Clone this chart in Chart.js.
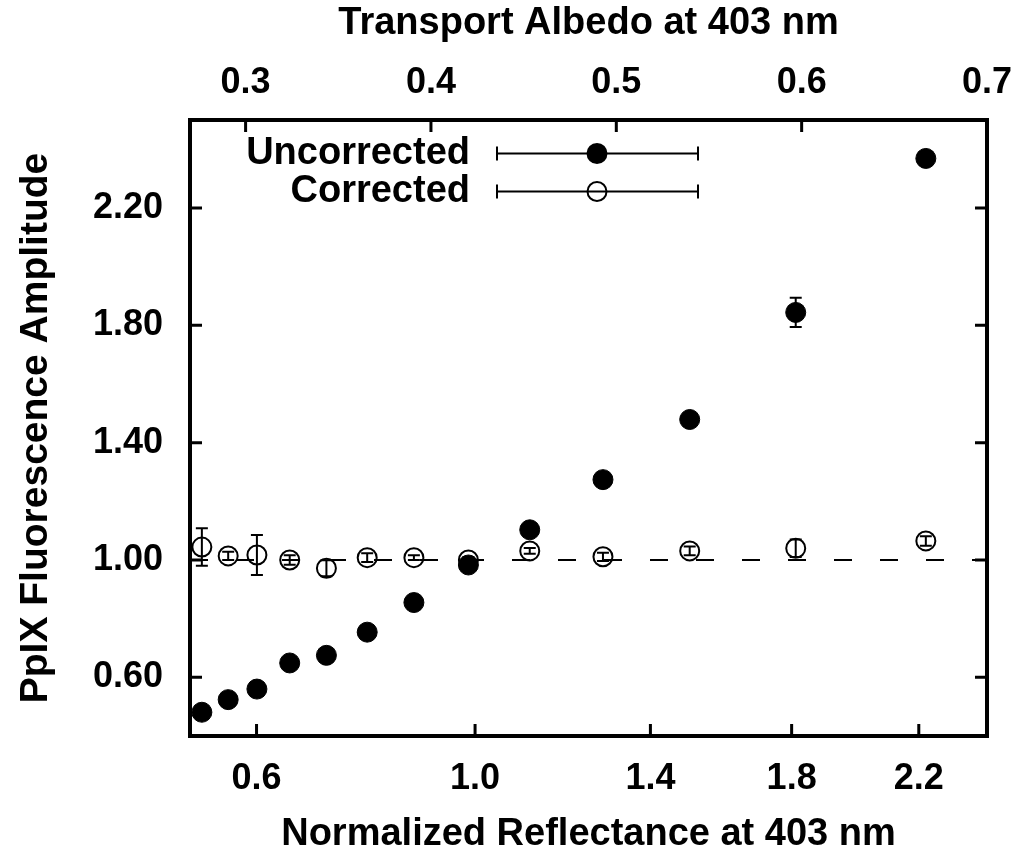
<!DOCTYPE html>
<html>
<head>
<meta charset="utf-8">
<title>PpIX Fluorescence Amplitude vs Transport Albedo</title>
<script src="https://cdn.jsdelivr.net/npm/chart.js@4.4.0/dist/chart.umd.min.js"></script>
<style>
  html, body { margin: 0; padding: 0; background: #ffffff; }
  #wrap { width: 1017px; height: 854px; position: relative; }
</style>
</head>
<body>
<div id="wrap"><canvas id="chart"></canvas></div>
<script>
// Phantom positions on the transport-albedo axis
const albedo = [0.2764, 0.2906, 0.3061, 0.3238, 0.3436, 0.3656, 0.3908, 0.4202, 0.4533, 0.4928, 0.5396, 0.5968, 0.6670];

// PpIX fluorescence amplitude, raw and corrected, with standard deviations
const uncorrected    = [0.481, 0.524, 0.560, 0.649, 0.675, 0.754, 0.855, 0.983, 1.103, 1.274, 1.479, 1.844, 2.369];
const uncorrectedErr = [0.010, 0.010, 0.010, 0.012, 0.010, 0.010, 0.012, 0.010, 0.015, 0.015, 0.020, 0.050, 0.020];
const corrected      = [1.044, 1.014, 1.017, 1.000, 0.972, 1.008, 1.008, 1.000, 1.031, 1.011, 1.031, 1.040, 1.065];
const correctedErr   = [0.064, 0.014, 0.068, 0.016, 0.027, 0.015, 0.008, 0.010, 0.010, 0.014, 0.015, 0.030, 0.016];

// Axis ticks
const albedoTicks = [0.3, 0.4, 0.5, 0.6, 0.7];
const reflectanceTickLabels = ['0.6', '1.0', '1.4', '1.8', '2.2'];
const reflectanceTickAlbedo = [0.3059, 0.4238, 0.5184, 0.5946, 0.6632];
const amplitudeTicks = [0.6, 1.0, 1.4, 1.8, 2.2];
const referenceLevel = 1.0;

const albedoRange = [0.27, 0.70];
const amplitudeRange = [0.40, 2.50];

const FONT = "'Liberation Sans', Arial, Helvetica, sans-serif";
const tickFont = { family: FONT, size: 36, weight: 'bold' };

const series = [
  { label: 'Uncorrected', values: uncorrected, errors: uncorrectedErr, filled: true },
  { label: 'Corrected',   values: corrected,   errors: correctedErr,   filled: false }
];

function drawMarker(ctx, x, y, filled) {
  ctx.beginPath();
  if (filled) {
    ctx.arc(x, y, 10.5, 0, Math.PI * 2);
    ctx.fillStyle = '#000';
    ctx.fill();
  } else {
    ctx.arc(x, y, 9.5, 0, Math.PI * 2);
    ctx.lineWidth = 2;
    ctx.strokeStyle = '#000';
    ctx.stroke();
  }
}

// Keep the plot box fixed: no extra room for overhanging tick labels
function fixBox(size, key) {
  return s => {
    s[key] = size;
    s.paddingLeft = 0; s.paddingRight = 0; s.paddingTop = 0; s.paddingBottom = 0;
  };
}

// Vertical error bars with caps, under the markers
const errorBars = {
  id: 'errorBars',
  beforeDatasetsDraw(chart) {
    const { ctx } = chart;
    const xs = chart.scales.albedo, ys = chart.scales.y;
    ctx.save();
    ctx.strokeStyle = '#000';
    ctx.lineWidth = 2;
    series.forEach(s => {
      s.values.forEach((v, i) => {
        const px = xs.getPixelForValue(albedo[i]);
        const top = ys.getPixelForValue(v + s.errors[i]);
        const bot = ys.getPixelForValue(v - s.errors[i]);
        ctx.beginPath();
        ctx.moveTo(px, top); ctx.lineTo(px, bot);
        ctx.moveTo(px - 6, top); ctx.lineTo(px + 6, top);
        ctx.moveTo(px - 6, bot); ctx.lineTo(px + 6, bot);
        ctx.stroke();
      });
    });
    ctx.restore();
  }
};

// Heavy frame with inward tick marks, and the key
const frameAndKey = {
  id: 'frameAndKey',
  afterDraw(chart) {
    const { ctx, chartArea: a } = chart;
    const xTop = chart.scales.albedo, xBot = chart.scales.refl, y = chart.scales.y;
    const tl = 12;
    ctx.save();
    ctx.strokeStyle = '#000';
    ctx.lineWidth = 3;
    ctx.beginPath();
    albedoTicks.forEach(v => { const p = xTop.getPixelForValue(v); ctx.moveTo(p, a.top); ctx.lineTo(p, a.top + tl); });
    reflectanceTickAlbedo.forEach(v => { const p = xBot.getPixelForValue(v); ctx.moveTo(p, a.bottom); ctx.lineTo(p, a.bottom - tl); });
    amplitudeTicks.forEach(v => {
      const p = y.getPixelForValue(v);
      ctx.moveTo(a.left, p); ctx.lineTo(a.left + tl, p);
      ctx.moveTo(a.right, p); ctx.lineTo(a.right - tl, p);
    });
    ctx.stroke();
    ctx.lineWidth = 4;
    ctx.strokeRect(a.left, a.top, a.right - a.left, a.bottom - a.top);

    // key
    const keyRows = [153.5, 191.5];
    const textRight = 470, lineL = 497, lineR = 698, mark = 597;
    ctx.font = `bold 38px ${FONT}`;
    ctx.textAlign = 'right';
    ctx.textBaseline = 'middle';
    ctx.fillStyle = '#000';
    series.forEach((s, i) => {
      const ky = keyRows[i];
      ctx.fillText(s.label, textRight, ky);
      ctx.lineWidth = 2;
      ctx.beginPath();
      ctx.moveTo(lineL, ky); ctx.lineTo(lineR, ky);
      ctx.moveTo(lineL, ky - 7); ctx.lineTo(lineL, ky + 7);
      ctx.moveTo(lineR, ky - 7); ctx.lineTo(lineR, ky + 7);
      ctx.stroke();
      drawMarker(ctx, mark, ky, s.filled);
    });
    ctx.restore();
  }
};

const toPoints = vals => albedo.map((x, i) => ({ x, y: vals[i] }));

new Chart(document.getElementById('chart'), {
  type: 'scatter',
  data: {
    datasets: [
      {
        label: 'Uncorrected',
        data: toPoints(uncorrected),
        xAxisID: 'albedo', yAxisID: 'y',
        pointRadius: 10, pointHoverRadius: 10,
        pointBorderWidth: 1,
        pointBackgroundColor: '#000', pointBorderColor: '#000',
        order: 0
      },
      {
        label: 'Corrected',
        data: toPoints(corrected),
        xAxisID: 'albedo', yAxisID: 'y',
        pointRadius: 9.5, pointHoverRadius: 9.5,
        pointBorderWidth: 2,
        pointBackgroundColor: 'rgba(0,0,0,0)', pointBorderColor: '#000',
        order: 1
      },
      {
        label: 'Reference',
        type: 'line',
        showLine: true,
        data: albedoRange.map(x => ({ x, y: referenceLevel })),
        xAxisID: 'albedo', yAxisID: 'y',
        borderColor: '#000', borderWidth: 2,
        borderDash: [18, 28],
        pointRadius: 0, pointHoverRadius: 0,
        order: 2
      }
    ]
  },
  options: {
    responsive: true,
    maintainAspectRatio: false,
    animation: false,
    events: [],
    layout: { padding: { left: 0, right: 30, top: 0, bottom: 0 } },
    plugins: { legend: { display: false }, tooltip: { enabled: false } },
    scales: {
      albedo: {
        type: 'linear', position: 'top', axis: 'x',
        min: albedoRange[0], max: albedoRange[1], bounds: 'data',
        afterBuildTicks: s => { s.ticks = albedoTicks.map(v => ({ value: v })); },
        afterFit: fixBox(120, 'height'),
        grid: { display: false, drawTicks: false },
        border: { display: false },
        ticks: { autoSkip: false, maxRotation: 0, padding: 15, color: '#000', font: tickFont,
                 callback: v => v.toFixed(1) },
        title: { display: true, text: 'Transport Albedo at 403 nm', color: '#000',
                 font: { family: FONT, size: 38, weight: 'bold', lineHeight: 1.0 },
                 padding: { top: 5, bottom: 0 } }
      },
      refl: {
        type: 'linear', position: 'bottom', axis: 'x',
        min: albedoRange[0], max: albedoRange[1], bounds: 'data',
        afterBuildTicks: s => { s.ticks = reflectanceTickAlbedo.map(v => ({ value: v })); },
        afterFit: fixBox(118, 'height'),
        grid: { display: false, drawTicks: false },
        border: { display: false },
        ticks: { autoSkip: false, maxRotation: 0, padding: 21, color: '#000', font: tickFont,
                 callback: (v, i) => reflectanceTickLabels[i] },
        title: { display: true, text: 'Normalized Reflectance at 403 nm', color: '#000',
                 font: { family: FONT, size: 38, weight: 'bold', lineHeight: 1.0 },
                 padding: { top: 0, bottom: 0 } }
      },
      y: {
        type: 'linear', position: 'left',
        min: amplitudeRange[0], max: amplitudeRange[1], bounds: 'data',
        afterBuildTicks: s => { s.ticks = amplitudeTicks.map(v => ({ value: v })); },
        afterFit: fixBox(190, 'width'),
        grid: { display: false, drawTicks: false },
        border: { display: false },
        ticks: { autoSkip: false, padding: 27, color: '#000', font: tickFont,
                 callback: v => v.toFixed(2) },
        title: { display: true, text: 'PpIX Fluorescence Amplitude', color: '#000',
                 font: { family: FONT, size: 39, weight: 'bold', lineHeight: 1.0 },
                 padding: { top: 17, bottom: 0 } }
      }
    }
  },
  plugins: [errorBars, frameAndKey]
});
</script>
</body>
</html>
